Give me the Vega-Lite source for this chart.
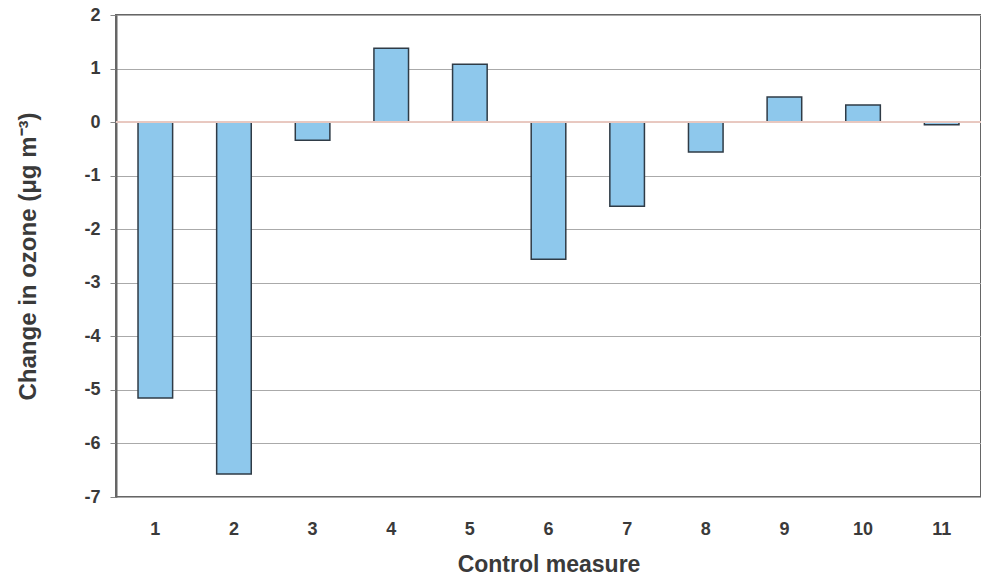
{
  "$schema": "https://vega.github.io/schema/vega-lite/v6.json",
  "width": 865,
  "height": 482,
  "autosize": {"type": "none"},
  "padding": {"left": 116, "top": 15, "right": 0, "bottom": 86},
  "background": "white",
  "config": {
    "view": {"stroke": "#666666", "strokeWidth": 2},
    "font": "Liberation Sans"
  },
  "data": {
    "values": [
      {"measure": "1", "change": -5.15},
      {"measure": "2", "change": -6.57},
      {"measure": "3", "change": -0.34},
      {"measure": "4", "change": 1.38},
      {"measure": "5", "change": 1.08},
      {"measure": "6", "change": -2.56},
      {"measure": "7", "change": -1.57},
      {"measure": "8", "change": -0.56},
      {"measure": "9", "change": 0.47},
      {"measure": "10", "change": 0.32},
      {"measure": "11", "change": -0.05}
    ]
  },
  "layer": [
    {
      "mark": {"type": "bar", "fill": "#8ec8ec", "stroke": "#2f3b46", "strokeWidth": 1.5},
      "encoding": {
        "x": {
          "field": "measure",
          "type": "ordinal",
          "sort": null,
          "scale": {"paddingInner": 0.56, "paddingOuter": 0.28},
          "axis": {
            "title": "Control measure",
            "titleFont": "Liberation Sans",
            "titleFontSize": 23,
            "titleFontWeight": "bold",
            "titleColor": "#3a3a3a",
            "titlePadding": 15,
            "labelAngle": 0,
            "labelFont": "Liberation Sans",
            "labelFontSize": 18,
            "labelFontWeight": "bold",
            "labelColor": "#3a3a3a",
            "labelPadding": 23,
            "ticks": false,
            "domain": false
          }
        },
        "y": {
          "field": "change",
          "type": "quantitative",
          "scale": {"domain": [-7, 2], "nice": false},
          "axis": {
            "title": "Change in ozone (μg m⁻³)",
            "titleFont": "Liberation Sans",
            "titleFontSize": 24,
            "titleFontWeight": "bold",
            "titleColor": "#3a3a3a",
            "titlePadding": 43,
            "values": [-7, -6, -5, -4, -3, -2, -1, 0, 1, 2],
            "labelExpr": "'' + datum.value",
            "labelOverlap": false,
            "labelFont": "Liberation Sans",
            "labelFontSize": 18,
            "labelFontWeight": "bold",
            "labelColor": "#3a3a3a",
            "labelPadding": 10,
            "tickSize": 6,
            "tickColor": "#888888",
            "gridColor": "#aaaaaa",
            "gridWidth": 1,
            "domainColor": "#666666",
            "domainWidth": 2
          }
        }
      }
    },
    {
      "mark": {"type": "rule", "color": "#e8c8c0", "strokeWidth": 1.5},
      "encoding": {"y": {"datum": 0}}
    }
  ]
}
